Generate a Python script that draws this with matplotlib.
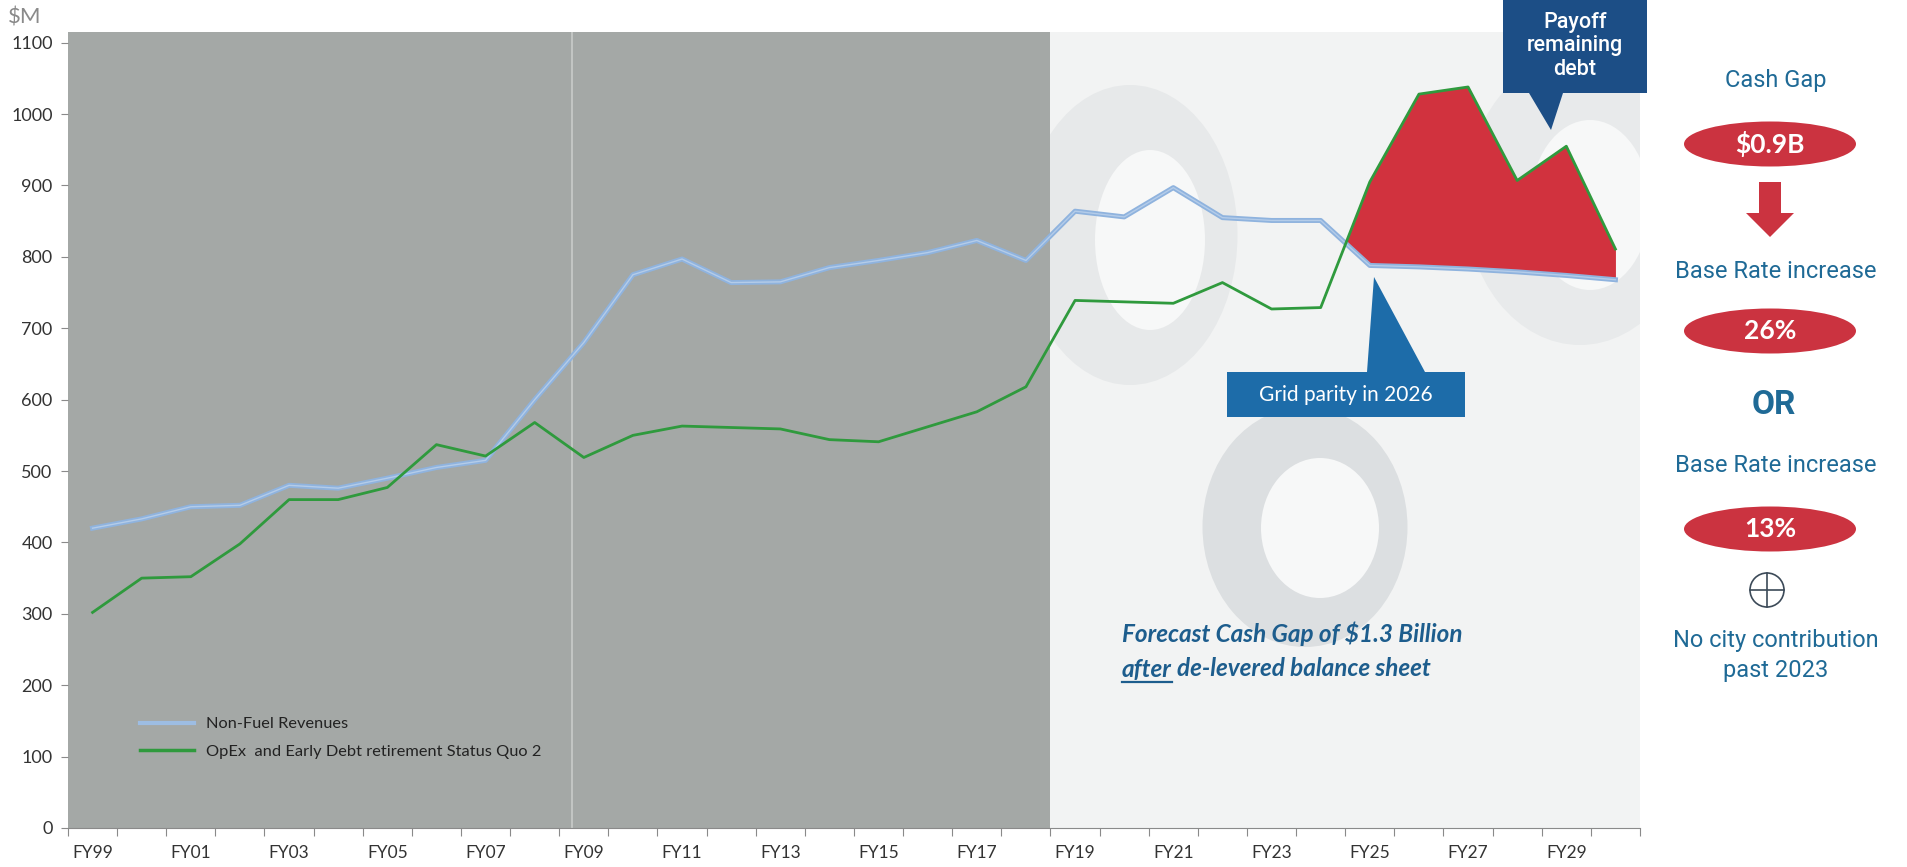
import numpy as np
import matplotlib
matplotlib.use("Agg")
import matplotlib.pyplot as plt
from matplotlib.patches import Polygon, Ellipse
from matplotlib.lines import Line2D

# fiscal years, FY99 .. FY30
years = ["FY99", "FY00", "FY01", "FY02", "FY03", "FY04", "FY05", "FY06",
         "FY07", "FY08", "FY09", "FY10", "FY11", "FY12", "FY13", "FY14",
         "FY15", "FY16", "FY17", "FY18", "FY19", "FY20", "FY21", "FY22",
         "FY23", "FY24", "FY25", "FY26", "FY27", "FY28", "FY29", "FY30"]

# $M
non_fuel_rev = [420, 433, 450, 452, 480, 476, 490, 505, 515, 600, 680, 775,
                797, 764, 765, 785, 795, 806, 823, 795, 864, 856, 897, 855,
                851, 851, 788, 786, 783, 779, 774, 768]
opex_debt = [302, 350, 352, 398, 460, 460, 477, 537, 521, 568, 519, 550,
             563, 561, 559, 544, 541, 562, 583, 618, 739, 737, 735, 764,
             727, 729, 905, 1028, 1038, 907, 955, 811]

y_ticks = [0, 100, 200, 300, 400, 500, 600, 700, 800, 900, 1000, 1100]
n_actual = 20      # FY99..FY18 are actuals, the rest is forecast
gap_from = 25      # cash gap shading starts after FY24

W, H = 1908, 867
fig = plt.figure(figsize=(W / 100, H / 100), dpi=100)
fig.patch.set_facecolor("white")


def fp(x, y):
    # pixel position measured from the top-left corner -> figure fraction
    return (x / W, 1 - y / H)


ax = fig.add_axes([68 / W, 1 - 828 / H, (1640 - 68) / W, (828 - 32) / H])
x = np.arange(len(years))
blue = np.array(non_fuel_rev)
green = np.array(opex_debt)

ax.set_xlim(-0.5, len(years) - 0.5)
ax.set_ylim(0, 1115)
ax.set_facecolor("#f2f3f3")
ax.axvspan(-0.5, n_actual - 0.5, color="#a4a8a6", zorder=0.8, lw=0)
ax.axvline(9.76, color="#c9ccca", lw=1.2, zorder=0.9)

# faint rings showing through from the page underneath
for (cx, cy, w, h), (icx, icy, iw, ih), col in [
        ((1305, 527, 205, 240), (1320, 528, 118, 140), "#dcdfe1"),
        ((1130, 235, 215, 300), (1150, 240, 110, 180), "#e7e9ea"),
        ((1580, 200, 230, 290), (1590, 205, 120, 170), "#e8eaeb")]:
    ax.add_patch(Ellipse(fp(cx, cy), w / W, h / H, transform=fig.transFigure,
                         color=col, lw=0, zorder=0.5))
    ax.add_patch(Ellipse(fp(icx, icy), iw / W, ih / H, transform=fig.transFigure,
                         color="#f7f8f8", lw=0, zorder=0.6))

ax.fill_between(x, blue, green, where=(green > blue) & (x >= gap_from),
                interpolate=True, color="#d1323e", lw=0, zorder=2)
ax.plot(x, blue, color="#8fb3de", lw=3.6, zorder=3, solid_joinstyle="round")
ax.plot(x, blue, color="#b4cce9", lw=1.0, zorder=3.1)
ax.plot(x, green, color="#2f9a3d", lw=2.0, zorder=4)

# axes styling
for s in ["top", "right", "left"]:
    ax.spines[s].set_visible(False)
ax.spines["bottom"].set_color("#8a8a8a")
ax.set_xticks(np.arange(-0.5, len(years), 1.0))
ax.set_xticklabels([])
ax.set_xticks(x[::2], minor=True)
ax.set_xticklabels(years[::2], minor=True, fontsize=12.5, family="Lato", color="#333333")
ax.tick_params(axis="x", which="major", length=6, color="#8a8a8a")
ax.tick_params(axis="x", which="minor", length=0, pad=12)
ax.set_yticks(y_ticks)
ax.set_yticklabels([str(v) for v in y_ticks], fontsize=13, family="Lato", color="#333333")
ax.tick_params(axis="y", length=5, color="#8a8a8a", pad=6)

fig.text(*fp(8, 17), "\\$M", fontsize=16, family="Lato", color="#8a8a8a", va="center")

# legend
handles = [Line2D([], [], color="#9dbde3", lw=3.0),
           Line2D([], [], color="#2f9a3d", lw=2.5)]
ax.legend(handles, ["Non-Fuel Revenues", "OpEx  and Early Debt retirement Status Quo 2"],
          loc="upper left", bbox_to_anchor=fp(140, 717), bbox_transform=fig.transFigure,
          frameon=False, prop={"family": "Lato", "size": 11.8}, handlelength=3.3,
          handletextpad=0.7, labelspacing=0.8, borderpad=0, borderaxespad=0,
          labelcolor="#222222")

# callout: grid parity
fig.patches.append(Polygon([fp(1227, 372), fp(1367, 372), fp(1374, 277), fp(1425, 372),
                            fp(1465, 372), fp(1465, 417), fp(1227, 417)],
                           closed=True, transform=fig.transFigure,
                           facecolor="#1d6ca9", edgecolor="none", zorder=5))
fig.text(*fp(1346, 395), "Grid parity in 2026", fontsize=15, family="Lato",
         color="white", ha="center", va="center", zorder=6)

# callout: payoff remaining debt
fig.patches.append(Polygon([fp(1503, 0), fp(1647, 0), fp(1647, 93), fp(1563, 93),
                            fp(1551, 130), fp(1529, 93), fp(1503, 93)],
                           closed=True, transform=fig.transFigure,
                           facecolor="#1c4e86", edgecolor="none", zorder=5))
fig.text(*fp(1575, 46), "Payoff\nremaining\ndebt", fontsize=15.5, family="Roboto",
         weight="medium", color="white", ha="center", va="center", linespacing=1.15, zorder=6)

# forecast note with underlined "after"
note_col = "#1d5d8d"
note_size = 17.5
fig.text(*fp(1122, 634), "Forecast Cash Gap of \\$1.3 Billion", fontsize=note_size,
         family="Lato", style="italic", weight="bold", color=note_col, va="center")
t_after = fig.text(*fp(1122, 669), "after", fontsize=note_size, family="Lato",
                   style="italic", weight="bold", color=note_col, va="center")
renderer = fig.canvas.get_renderer()
bb = t_after.get_window_extent(renderer)
fig.text((bb.x1 + 5) / W, 1 - 669 / H, "de-levered balance sheet", fontsize=note_size,
         family="Lato", style="italic", weight="bold", color=note_col, va="center")
fig.add_artist(Line2D([bb.x0 / W, bb.x1 / W], [(bb.y0 - 1) / H] * 2, color=note_col,
                      lw=1.6, transform=fig.transFigure))

# right-hand summary panel
pcol = "#1f6a96"
red = "#cb3340"
cx = 1770
pfont = dict(family="Roboto", color=pcol, ha="center", va="center")
fig.text(*fp(cx + 6, 81), "Cash Gap", fontsize=17, **pfont)
for cy, label in [(144, "\\$0.9B"), (331, "26%"), (529, "13%")]:
    fig.patches.append(Ellipse(fp(cx, cy), 172 / W, 45 / H, transform=fig.transFigure,
                               facecolor=red, edgecolor="none"))
    fig.text(*fp(cx, cy), label, fontsize=19, family="Lato", weight="bold",
             color="white", ha="center", va="center")
fig.patches.append(Polygon([fp(cx - 11, 182), fp(cx + 11, 182), fp(cx + 11, 213),
                            fp(cx + 24, 213), fp(cx, 237), fp(cx - 24, 213),
                            fp(cx - 11, 213)], closed=True, transform=fig.transFigure,
                           facecolor=red, edgecolor="none"))
fig.text(*fp(cx + 6, 271), "Base Rate increase", fontsize=17, **pfont)
fig.text(*fp(cx + 4, 405), "OR", fontsize=24, weight="bold", **pfont)
fig.text(*fp(cx + 6, 466), "Base Rate increase", fontsize=17, **pfont)

# circled plus
pc = "#3c4a58"
fig.patches.append(Ellipse(fp(cx - 3, 590), 34 / W, 34 / H, transform=fig.transFigure,
                           facecolor="none", edgecolor=pc, lw=1.2))
fig.add_artist(Line2D([(cx - 20) / W, (cx + 14) / W], [1 - 590 / H] * 2, color=pc,
                      lw=1.2, transform=fig.transFigure))
fig.add_artist(Line2D([(cx - 3) / W] * 2, [1 - 573 / H, 1 - 607 / H], color=pc,
                      lw=1.2, transform=fig.transFigure))
fig.text(*fp(cx + 6, 640), "No city contribution", fontsize=17, **pfont)
fig.text(*fp(cx + 6, 671), "past 2023", fontsize=17, **pfont)

fig.savefig("out.png", dpi=100)
